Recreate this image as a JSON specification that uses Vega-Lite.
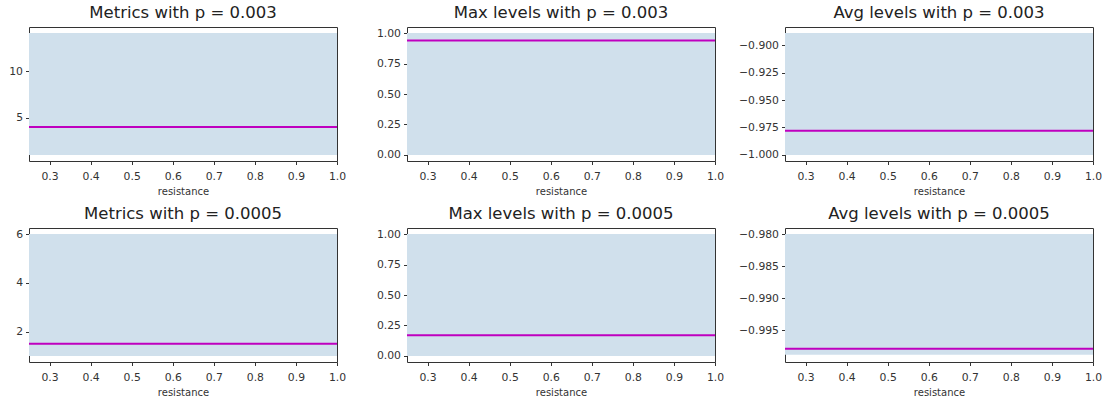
{
  "$schema": "https://vega.github.io/schema/vega-lite/v6.json",
  "padding": {"left": 8, "top": 4, "right": 4, "bottom": 4},
  "background": "white",
  "data": {
    "values": [
      {"panel": "m1", "resistance": 0.25, "low": 1.0, "high": 14.1, "mean": 4.0},
      {"panel": "m1", "resistance": 1.0, "low": 1.0, "high": 14.1, "mean": 4.0},
      {"panel": "x1", "resistance": 0.25, "low": 0.0, "high": 1.0, "mean": 0.94},
      {"panel": "x1", "resistance": 1.0, "low": 0.0, "high": 1.0, "mean": 0.94},
      {"panel": "a1", "resistance": 0.25, "low": -1.0, "high": -0.8889, "mean": -0.978},
      {"panel": "a1", "resistance": 1.0, "low": -1.0, "high": -0.8889, "mean": -0.978},
      {"panel": "m2", "resistance": 0.25, "low": 1.0, "high": 6.0, "mean": 1.5},
      {"panel": "m2", "resistance": 1.0, "low": 1.0, "high": 6.0, "mean": 1.5},
      {"panel": "x2", "resistance": 0.25, "low": 0.0, "high": 1.0, "mean": 0.17},
      {"panel": "x2", "resistance": 1.0, "low": 0.0, "high": 1.0, "mean": 0.17},
      {"panel": "a2", "resistance": 0.25, "low": -0.9988, "high": -0.98, "mean": -0.9979},
      {"panel": "a2", "resistance": 1.0, "low": -0.9988, "high": -0.98, "mean": -0.9979}
    ]
  },
  "columns": 3,
  "bounds": "flush",
  "spacing": {"row": 67, "column": 70},
  "concat": [
    {
      "title": "Metrics with p = 0.003",
      "width": 308, "height": 134,
      "transform": [{"filter": "datum.panel === 'm1'"}],
      "encoding": {
        "x": {"field": "resistance", "type": "quantitative", "scale": {"domain": [0.25, 1.0], "nice": false, "zero": false},
              "axis": {"values": [0.3, 0.4, 0.5, 0.6, 0.7, 0.8, 0.9, 1.0], "format": ".1f", "title": "resistance"}}
      },
      "layer": [
        {"mark": {"type": "area", "color": "#d0e0ec", "opacity": 1},
         "encoding": {"y": {"field": "low", "type": "quantitative", "scale": {"domain": [0.345, 14.755], "nice": false, "zero": false}, "axis": {"values": [5, 10], "format": "d", "title": null}}, "y2": {"field": "high"}}},
        {"mark": {"type": "line", "color": "#bf00bf", "strokeWidth": 2},
         "encoding": {"y": {"field": "mean", "type": "quantitative", "scale": {"domain": [0.345, 14.755], "nice": false, "zero": false}, "axis": {"values": [5, 10], "format": "d", "title": null}}}}
      ]
    },
    {
      "title": "Max levels with p = 0.003",
      "width": 308, "height": 134,
      "transform": [{"filter": "datum.panel === 'x1'"}],
      "encoding": {
        "x": {"field": "resistance", "type": "quantitative", "scale": {"domain": [0.25, 1.0], "nice": false, "zero": false},
              "axis": {"values": [0.3, 0.4, 0.5, 0.6, 0.7, 0.8, 0.9, 1.0], "format": ".1f", "title": "resistance"}}
      },
      "layer": [
        {"mark": {"type": "area", "color": "#d0e0ec", "opacity": 1},
         "encoding": {"y": {"field": "low", "type": "quantitative", "scale": {"domain": [-0.05, 1.05], "nice": false, "zero": false}, "axis": {"values": [0, 0.25, 0.5, 0.75, 1.0], "format": ".2f", "title": null}}, "y2": {"field": "high"}}},
        {"mark": {"type": "line", "color": "#bf00bf", "strokeWidth": 2},
         "encoding": {"y": {"field": "mean", "type": "quantitative", "scale": {"domain": [-0.05, 1.05], "nice": false, "zero": false}, "axis": {"values": [0, 0.25, 0.5, 0.75, 1.0], "format": ".2f", "title": null}}}}
      ]
    },
    {
      "title": "Avg levels with p = 0.003",
      "width": 308, "height": 134,
      "transform": [{"filter": "datum.panel === 'a1'"}],
      "encoding": {
        "x": {"field": "resistance", "type": "quantitative", "scale": {"domain": [0.25, 1.0], "nice": false, "zero": false},
              "axis": {"values": [0.3, 0.4, 0.5, 0.6, 0.7, 0.8, 0.9, 1.0], "format": ".1f", "title": "resistance"}}
      },
      "layer": [
        {"mark": {"type": "area", "color": "#d0e0ec", "opacity": 1},
         "encoding": {"y": {"field": "low", "type": "quantitative", "scale": {"domain": [-1.00556, -0.88334], "nice": false, "zero": false}, "axis": {"values": [-1.0, -0.975, -0.95, -0.925, -0.9], "format": ".3f", "title": null}}, "y2": {"field": "high"}}},
        {"mark": {"type": "line", "color": "#bf00bf", "strokeWidth": 2},
         "encoding": {"y": {"field": "mean", "type": "quantitative", "scale": {"domain": [-1.00556, -0.88334], "nice": false, "zero": false}, "axis": {"values": [-1.0, -0.975, -0.95, -0.925, -0.9], "format": ".3f", "title": null}}}}
      ]
    },
    {
      "title": "Metrics with p = 0.0005",
      "width": 308, "height": 134,
      "transform": [{"filter": "datum.panel === 'm2'"}],
      "encoding": {
        "x": {"field": "resistance", "type": "quantitative", "scale": {"domain": [0.25, 1.0], "nice": false, "zero": false},
              "axis": {"values": [0.3, 0.4, 0.5, 0.6, 0.7, 0.8, 0.9, 1.0], "format": ".1f", "title": "resistance"}}
      },
      "layer": [
        {"mark": {"type": "area", "color": "#d0e0ec", "opacity": 1},
         "encoding": {"y": {"field": "low", "type": "quantitative", "scale": {"domain": [0.75, 6.25], "nice": false, "zero": false}, "axis": {"values": [2, 4, 6], "format": "d", "title": null}}, "y2": {"field": "high"}}},
        {"mark": {"type": "line", "color": "#bf00bf", "strokeWidth": 2},
         "encoding": {"y": {"field": "mean", "type": "quantitative", "scale": {"domain": [0.75, 6.25], "nice": false, "zero": false}, "axis": {"values": [2, 4, 6], "format": "d", "title": null}}}}
      ]
    },
    {
      "title": "Max levels with p = 0.0005",
      "width": 308, "height": 134,
      "transform": [{"filter": "datum.panel === 'x2'"}],
      "encoding": {
        "x": {"field": "resistance", "type": "quantitative", "scale": {"domain": [0.25, 1.0], "nice": false, "zero": false},
              "axis": {"values": [0.3, 0.4, 0.5, 0.6, 0.7, 0.8, 0.9, 1.0], "format": ".1f", "title": "resistance"}}
      },
      "layer": [
        {"mark": {"type": "area", "color": "#d0e0ec", "opacity": 1},
         "encoding": {"y": {"field": "low", "type": "quantitative", "scale": {"domain": [-0.05, 1.05], "nice": false, "zero": false}, "axis": {"values": [0, 0.25, 0.5, 0.75, 1.0], "format": ".2f", "title": null}}, "y2": {"field": "high"}}},
        {"mark": {"type": "line", "color": "#bf00bf", "strokeWidth": 2},
         "encoding": {"y": {"field": "mean", "type": "quantitative", "scale": {"domain": [-0.05, 1.05], "nice": false, "zero": false}, "axis": {"values": [0, 0.25, 0.5, 0.75, 1.0], "format": ".2f", "title": null}}}}
      ]
    },
    {
      "title": "Avg levels with p = 0.0005",
      "width": 308, "height": 134,
      "transform": [{"filter": "datum.panel === 'a2'"}],
      "encoding": {
        "x": {"field": "resistance", "type": "quantitative", "scale": {"domain": [0.25, 1.0], "nice": false, "zero": false},
              "axis": {"values": [0.3, 0.4, 0.5, 0.6, 0.7, 0.8, 0.9, 1.0], "format": ".1f", "title": "resistance"}}
      },
      "layer": [
        {"mark": {"type": "area", "color": "#d0e0ec", "opacity": 1},
         "encoding": {"y": {"field": "low", "type": "quantitative", "scale": {"domain": [-0.99995, -0.97905], "nice": false, "zero": false}, "axis": {"values": [-0.995, -0.99, -0.985, -0.98], "format": ".3f", "title": null}}, "y2": {"field": "high"}}},
        {"mark": {"type": "line", "color": "#bf00bf", "strokeWidth": 2},
         "encoding": {"y": {"field": "mean", "type": "quantitative", "scale": {"domain": [-0.99995, -0.97905], "nice": false, "zero": false}, "axis": {"values": [-0.995, -0.99, -0.985, -0.98], "format": ".3f", "title": null}}}}
      ]
    }
  ],
  "config": {
    "font": "DejaVu Sans",
    "view": {"stroke": "#333", "strokeWidth": 1},
    "axis": {
      "domain": false, "grid": false,
      "labelOverlap": false, "labelFlush": false,
      "tickColor": "#333", "tickSize": 3.5, "tickWidth": 1,
      "labelFontSize": 10.8, "labelColor": "#333", "labelPadding": 3, "labelFont": "DejaVu Sans",
      "titleFontSize": 10, "titleFontWeight": "normal", "titleColor": "#333", "titlePadding": 6, "titleFont": "DejaVu Sans"
    },
    "axisX": {"labelPadding": 5.5},
    "title": {"fontSize": 16.5, "fontWeight": "normal", "color": "#222", "font": "DejaVu Sans", "baseline": "alphabetic", "offset": 6, "anchor": "middle"}
  }
}
